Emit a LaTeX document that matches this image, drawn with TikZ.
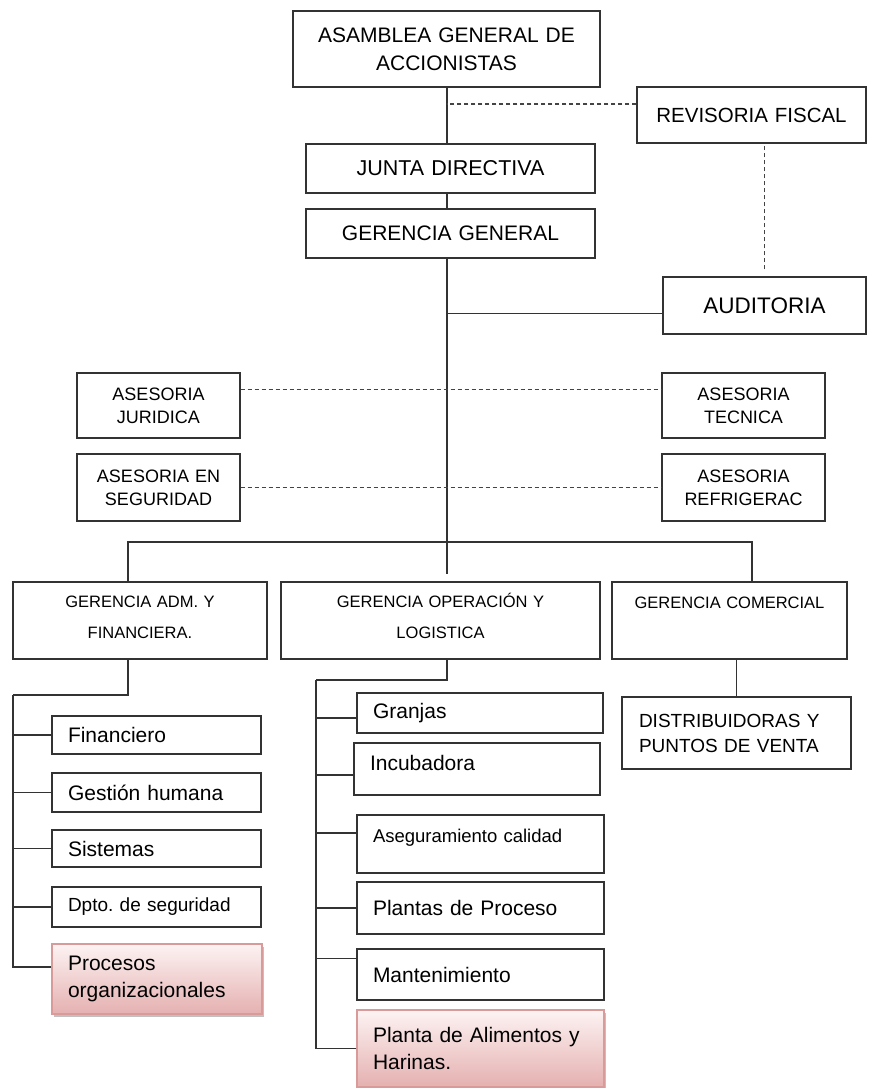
\documentclass[tikz,border=0pt]{standalone}
\usepackage{fontspec}
\setmainfont{Liberation Sans}
\usetikzlibrary{shadows}
\definecolor{linegray}{HTML}{333333}
\definecolor{dashgray}{HTML}{444444}
\definecolor{pinkline}{HTML}{D99A9A}
\definecolor{pinktop}{HTML}{FDF3F3}
\definecolor{pinkbot}{HTML}{E5B0B0}
\newcommand{\fsz}[2]{\fontsize{#1}{#2}\selectfont}
\frenchspacing

\begin{document}
\begin{tikzpicture}[x=1pt,y=-1pt]
	\tikzstyle{box}=[draw=linegray,line width=1.4pt,fill=white,inner sep=0pt,align=center]
	\tikzstyle{lbox}=[box,align=left,inner xsep=16pt]
	\tikzstyle{pinkbox}=[lbox,draw=pinkline,top color=pinktop,bottom color=pinkbot,
		drop shadow={shadow xshift=2pt,shadow yshift=-3pt,opacity=.35,fill=black!70}]
	\tikzstyle{conn}=[draw=linegray,line width=1.4pt]
	\tikzstyle{dotline}=[draw=dashgray,line width=1.5pt,dash pattern=on 4pt off 3pt]
	\useasboundingbox (0,0) rectangle (882,1088);

	% direccion
	\node[box,text width=307pt,minimum height=76pt,font=\fsz{21}{28}](asamblea) at (446.5,49){ASAMBLEA GENERAL DE\\ACCIONISTAS};
	\node[box,text width=229pt,minimum height=56pt,font=\fsz{20.5}{25}](revisoria) at (751.5,115){REVISORIA FISCAL};
	\node[box,text width=289pt,minimum height=49pt,font=\fsz{21.5}{26}](junta) at (450.5,168.5){JUNTA DIRECTIVA};
	\node[box,text width=289pt,minimum height=49pt,font=\fsz{21}{26}](gg) at (450.5,233.5){GERENCIA GENERAL};
	\node[box,text width=203pt,minimum height=57pt,font=\fsz{22.5}{27}](auditoria) at (764.5,305.5){AUDITORIA};

	% asesorias
	\node[box,text width=163pt,minimum height=65pt,font=\fsz{18}{23}](juridica) at (158.5,405.5){ASESORIA\\JURIDICA};
	\node[box,text width=163pt,minimum height=65pt,font=\fsz{18}{23}](tecnica) at (743.5,405.5){ASESORIA\\TECNICA};
	\node[box,text width=163pt,minimum height=67pt,font=\fsz{18}{23}](seguridad) at (158.5,487.5){ASESORIA EN\\SEGURIDAD};
	\node[box,text width=163pt,minimum height=67pt,font=\fsz{18}{23}](refrigerac) at (743.5,487.5){ASESORIA\\REFRIGERAC};

	% gerencias
	\node[box,text width=254pt,text height=25pt,text depth=52pt,font=\fsz{16.5}{31}](ga) at (140,620.5){GERENCIA ADM. Y\\FINANCIERA.};
	\node[box,text width=319pt,text height=25pt,text depth=52pt,font=\fsz{16.5}{31}](go) at (440.5,620.5){GERENCIA OPERACIÓN Y\\LOGISTICA};
	\node[box,text width=235pt,text height=26pt,text depth=51pt,font=\fsz{16.5}{31}](gc) at (729.5,620.5){GERENCIA COMERCIAL};
	\node[lbox,inner xsep=17pt,text width=195pt,minimum height=72pt,font=\fsz{19}{25}](distrib) at (736.5,733){DISTRIBUIDORAS Y\\PUNTOS DE VENTA};

	% adm. y financiera
	\node[lbox,text width=177pt,minimum height=38pt,font=\fsz{21}{27}](financiero) at (156.5,735){Financiero};
	\node[lbox,text width=177pt,minimum height=39pt,font=\fsz{21}{27}](gestion) at (156.5,792.5){Gestión humana};
	\node[lbox,text width=177pt,minimum height=37pt,font=\fsz{21}{27}](sistemas) at (156.5,848.5){Sistemas};
	\node[lbox,text width=177pt,minimum height=40pt,font=\fsz{19}{25}](dpto) at (156.5,907){Dpto. de seguridad};
	\node[pinkbox,text width=178pt,minimum height=70pt,font=\fsz{21}{27}](procesos) at (157,979){Procesos\\organizacionales};

	% operacion y logistica
	\node[lbox,text width=214pt,minimum height=40pt,font=\fsz{21}{27}](granjas) at (480,713){Granjas};
	\node[lbox,text width=214pt,text height=27.5pt,text depth=24.5pt,font=\fsz{21}{27}](incubadora) at (477,769){Incubadora};
	\node[lbox,text width=215pt,text height=27.5pt,text depth=30.5pt,font=\fsz{18.5}{24}](aseguramiento) at (480.5,844){Aseguramiento calidad};
	\node[lbox,text width=215pt,minimum height=52pt,font=\fsz{21}{27}](plantas) at (480.5,908){Plantas de Proceso};
	\node[lbox,text width=215pt,minimum height=51pt,font=\fsz{21}{27}](mantenimiento) at (480.5,974.5){Mantenimiento};
	\node[pinkbox,text width=215pt,minimum height=77pt,font=\fsz{21}{27}](alimentos) at (480.5,1048.5){Planta de Alimentos y\\Harinas.};

	% linea principal
	\coordinate (bus) at (447,542);
	\draw[conn] (asamblea.south -| bus) -- (junta.north -| bus);
	\draw[conn] (junta.south -| bus) -- (gg.north -| bus);
	\draw[conn] (gg.south -| bus) -- (bus);
	\coordinate (rf) at ([yshift=11pt]revisoria.west);
	\draw[dotline] (rf) -- (rf -| bus);
	\draw[dotline,shorten <=7pt] (auditoria.north) -- (auditoria.north |- revisoria.south);
	\coordinate (au) at ([yshift=-8pt]auditoria.west);
	\draw[conn] (au) -- (au -| bus);
	\coordinate (aj) at ([yshift=16pt]juridica.east);
	\draw[dotline] (aj) -- (aj -| tecnica.west);
	\draw[dotline] (seguridad.east) -- (refrigerac.west);

	% gerencias
	\coordinate (b1) at (128,542);
	\coordinate (b3) at (752,542);
	\draw[conn] (b1 |- ga.north) -- (b1) -- (b3) -- (b3 |- gc.north);
	\draw[conn,shorten >=7pt] (bus) -- (bus |- go.north);
	\draw[conn] (distrib.north) -- (distrib.north |- gc.south);

	% ramas
	\coordinate (ga1) at (128,695);
	\coordinate (ga2) at (13,695);
	\draw[conn] (b1 |- ga.south) -- (ga1) -- (ga2);
	\draw[conn] ([yshift=12pt]procesos.west) -| (ga2);
	\foreach \n in {financiero,gestion,sistemas,dpto}
		\draw[conn] (\n.west) -| (ga2);
	\coordinate (go1) at (447,680);
	\coordinate (go2) at (316,680);
	\draw[conn] (bus |- go.south) -- (go1) -- (go2);
	\draw[conn] (alimentos.west) -| (go2);
	\foreach \n/\s in {granjas/-5,incubadora/-6,aseguramiento/11,plantas/0,mantenimiento/16}
		\draw[conn] ([yshift=\s pt]\n.west) -| (go2);
\end{tikzpicture}
\end{document}
